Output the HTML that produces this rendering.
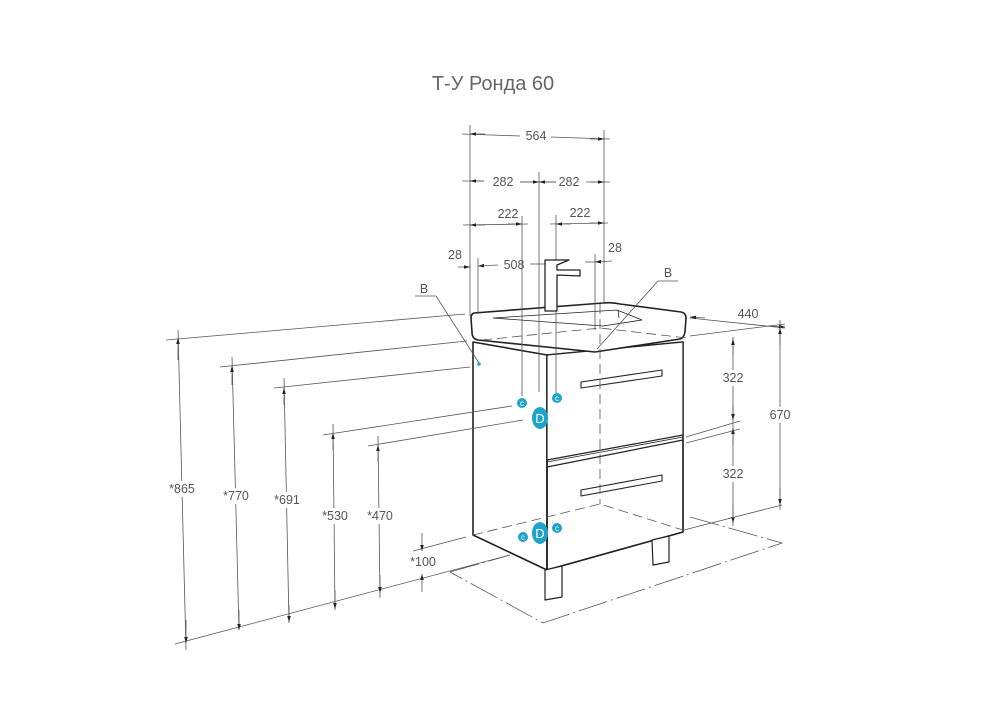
<!DOCTYPE html>
<html><head><meta charset="utf-8"><style>
html,body{margin:0;padding:0;background:#fff}
svg{display:block}
text{font-family:"Liberation Sans",sans-serif;fill:#555}
</style></head><body>
<svg width="1000" height="706" viewBox="0 0 1000 706" xmlns="http://www.w3.org/2000/svg">
<defs>
<marker id="a" viewBox="0 0 10 10" refX="10" refY="5" markerWidth="9" markerHeight="6" orient="auto-start-reverse" markerUnits="userSpaceOnUse"><path d="M0,2 L10,5 L0,8z" fill="#222"/></marker>
</defs>
<text x="493" y="90" font-size="20" text-anchor="middle" style="fill:#666">Т-У Ронда 60</text>

<!-- cabinet -->
<g stroke="#222" stroke-width="1.6" fill="#fff" stroke-linejoin="round">
<polygon points="473,342 547,355 547,570 473,535"/>
<polygon points="547,355 683,342 683,532 547,570" fill="none"/>
<polygon points="547,355 683,342 683,435 547,460" fill="#fff" stroke-width="1.2"/>
<polygon points="547,467 683,440 683,532 547,570" fill="none" stroke-width="1.2"/>
<line x1="547" y1="462" x2="683" y2="437" stroke-width="0.8"/>
<polygon points="581,382 662,370 662,376 581,388" fill="#fff" stroke-width="1.1"/>
<polygon points="581,490 662,475 662,481 581,496" fill="#fff" stroke-width="1.1"/>
<polygon points="545,570 562,566 562,597 545,600" fill="#fff" stroke-width="1.2"/>
<polygon points="652,540 669,536 669,562 653,565" fill="#fff" stroke-width="1.2"/>
<path d="M474,313 L603,303 Q612,302 620,304 L681,312 Q686,313 686,318 L685,332 Q684,338 680,339 L595,352 L478,340 Q472,339 472,332 L471,318 Q471,314 474,313 Z" fill="#fff"/>
<path d="M493,318 L617,310 L642,320 L603,326 Z" fill="none" stroke-width="0.8"/>
<line x1="618" y1="310" x2="619" y2="318" stroke-width="0.8"/>
</g>

<g stroke="#555" stroke-width="0.8" fill="none">
<line x1="470" y1="125" x2="470" y2="316"/>
<line x1="604" y1="130" x2="604" y2="302"/>
<line x1="539" y1="172" x2="539" y2="392"/>
<line x1="522" y1="216" x2="522" y2="396"/>
<line x1="556" y1="215" x2="556" y2="393"/>
<line x1="478" y1="258" x2="478" y2="314"/>
<line x1="595" y1="254" x2="595" y2="330"/>
<line x1="462" y1="134" x2="520" y2="136"/><line x1="550" y1="137" x2="610" y2="139"/>
<line x1="470" y1="134" x2="485" y2="134" marker-start="url(#a)"/>
<line x1="590" y1="139" x2="604" y2="139" marker-end="url(#a)"/>
<line x1="462" y1="181" x2="484" y2="181"/><line x1="520" y1="182" x2="556" y2="182"/><line x1="586" y1="182" x2="610" y2="182"/>
<line x1="470" y1="181" x2="484" y2="181" marker-start="url(#a)"/>
<line x1="520" y1="182" x2="539" y2="182" marker-end="url(#a)"/>
<line x1="539" y1="182" x2="556" y2="182" marker-start="url(#a)"/>
<line x1="590" y1="182" x2="604" y2="182" marker-end="url(#a)"/>
<line x1="463" y1="225" x2="528" y2="224"/>
<line x1="470" y1="225" x2="485" y2="225" marker-start="url(#a)"/>
<line x1="508" y1="224" x2="522" y2="224" marker-end="url(#a)"/>
<line x1="550" y1="224" x2="608" y2="223"/>
<line x1="556" y1="224" x2="571" y2="224" marker-start="url(#a)"/>
<line x1="590" y1="223" x2="604" y2="223" marker-end="url(#a)"/>
<line x1="458" y1="267" x2="470" y2="267" marker-end="url(#a)"/>
<line x1="478" y1="266" x2="498" y2="265" marker-start="url(#a)"/>
<line x1="530" y1="264" x2="545" y2="264"/>
<line x1="585" y1="262" x2="595" y2="262"/>
<line x1="595" y1="262" x2="612" y2="261" marker-start="url(#a)"/>
<line x1="415" y1="296" x2="436" y2="296"/><line x1="436" y1="296" x2="479" y2="363"/>
<line x1="658" y1="281" x2="678" y2="281"/><line x1="658" y1="281" x2="597" y2="349"/>
<line x1="690" y1="318" x2="785" y2="328"/>
<line x1="705" y1="318" x2="690" y2="317" marker-end="url(#a)"/>
<line x1="770" y1="326" x2="785" y2="327" marker-end="url(#a)"/>
<line x1="690" y1="336" x2="785" y2="324"/>
<line x1="780" y1="320" x2="780" y2="510"/>
<line x1="780" y1="345" x2="780" y2="328" marker-end="url(#a)"/>
<line x1="780" y1="488" x2="780" y2="505" marker-end="url(#a)"/>
<line x1="733" y1="337" x2="733" y2="526"/>
<line x1="733" y1="355" x2="733" y2="339" marker-end="url(#a)"/>
<line x1="733" y1="405" x2="733" y2="420" marker-end="url(#a)"/>
<line x1="733" y1="445" x2="733" y2="428" marker-end="url(#a)"/>
<line x1="733" y1="505" x2="733" y2="523" marker-end="url(#a)"/>
<line x1="686" y1="437" x2="740" y2="421"/>
<line x1="686" y1="443" x2="740" y2="429"/>
<line x1="684" y1="530" x2="782" y2="505"/>
<line x1="166" y1="340" x2="465" y2="314"/>
<line x1="220" y1="367" x2="467" y2="341"/>
<line x1="274" y1="388" x2="470" y2="367"/>
<line x1="323" y1="435" x2="512" y2="406"/>
<line x1="368" y1="446" x2="523" y2="420"/>
<line x1="413" y1="551" x2="466" y2="537"/>
<line x1="175" y1="644" x2="510" y2="555"/>
<line x1="178" y1="330" x2="186" y2="650"/>
<line x1="178" y1="360" x2="178" y2="338" marker-end="url(#a)"/>
<line x1="186" y1="620" x2="186" y2="643" marker-end="url(#a)"/>
<line x1="232" y1="357" x2="239" y2="630"/>
<line x1="232" y1="385" x2="232" y2="366" marker-end="url(#a)"/>
<line x1="239" y1="610" x2="239" y2="630" marker-end="url(#a)"/>
<line x1="284" y1="378" x2="289" y2="623"/>
<line x1="284" y1="405" x2="284" y2="388" marker-end="url(#a)"/>
<line x1="289" y1="605" x2="289" y2="622" marker-end="url(#a)"/>
<line x1="333" y1="424" x2="335" y2="610"/>
<line x1="333" y1="450" x2="333" y2="433" marker-end="url(#a)"/>
<line x1="335" y1="590" x2="335" y2="609" marker-end="url(#a)"/>
<line x1="378" y1="436" x2="380" y2="598"/>
<line x1="378" y1="462" x2="378" y2="445" marker-end="url(#a)"/>
<line x1="380" y1="575" x2="380" y2="593" marker-end="url(#a)"/>
<line x1="422" y1="533" x2="422" y2="551" marker-end="url(#a)"/>
<line x1="422" y1="592" x2="422" y2="574" marker-end="url(#a)"/>
<polyline points="690,517 782,543 543,623 450,572" stroke-dasharray="30,4,2,4"/>
<line x1="450" y1="572" x2="510" y2="555" stroke-dasharray="30,4,2,4"/>
<polyline points="473,535 600,504 683,530" stroke-dasharray="10,5"/>
<line x1="600" y1="304" x2="600" y2="504" stroke-dasharray="10,5"/>
<polyline points="482,340 600,328 687,338" stroke-dasharray="10,5"/>
</g>

<!-- faucet on top -->
<path d="M545,311 L545,260 L569,260 L557,265 L557,270 L580,270 L580,276 L557,275 L557,311 Z" fill="#fff" stroke="#222" stroke-width="1.3" stroke-linejoin="round"/>

<g font-size="12.5" text-anchor="middle">
<rect x="521" y="128" width="30" height="14" fill="#fff"/>
<text x="536" y="140">564</text>
<text x="503" y="186">282</text><text x="569" y="186">282</text>
<text x="508" y="218">222</text><text x="580" y="217">222</text>
<text x="455" y="259">28</text><text x="514" y="269">508</text><text x="615" y="252">28</text>
<text x="424" y="293">B</text><text x="668" y="277">B</text>
<text x="748" y="318">440</text>
<rect x="718" y="370" width="30" height="16" fill="#fff"/><text x="733" y="382">322</text>
<rect x="718" y="466" width="30" height="16" fill="#fff"/><text x="733" y="478">322</text>
<rect x="765" y="407" width="30" height="16" fill="#fff"/><text x="780" y="419">670</text>
<rect x="163" y="481" width="38" height="16" fill="#fff"/><text x="182" y="493">*865</text>
<rect x="217" y="488" width="40" height="16" fill="#fff"/><text x="236" y="500">*770</text>
<rect x="268" y="492" width="40" height="16" fill="#fff"/><text x="287" y="504">*691</text>
<rect x="316" y="508" width="40" height="16" fill="#fff"/><text x="335" y="520">*530</text>
<rect x="360" y="508" width="40" height="16" fill="#fff"/><text x="380" y="520">*470</text>
<text x="423" y="566">*100</text>
</g>

<g fill="#1ea3cb">
<circle cx="479" cy="364" r="1.8"/>
<circle cx="522" cy="403" r="5"/><circle cx="557" cy="398" r="5"/>
<circle cx="523" cy="537" r="5"/><circle cx="557" cy="528" r="5"/>
<ellipse cx="540" cy="418" rx="8" ry="11"/><ellipse cx="540" cy="533" rx="8" ry="11"/>
</g>
<g font-size="8" text-anchor="middle">
<text x="522" y="406" style="fill:#fff">c</text><text x="557" y="401" style="fill:#fff">c</text>
<text x="523" y="540" style="fill:#fff">c</text><text x="557" y="531" style="fill:#fff">c</text>
<text x="540" y="423" font-size="13" style="fill:#fff">D</text><text x="540" y="538" font-size="13" style="fill:#fff">D</text>
</g>
</svg>
</body></html>
